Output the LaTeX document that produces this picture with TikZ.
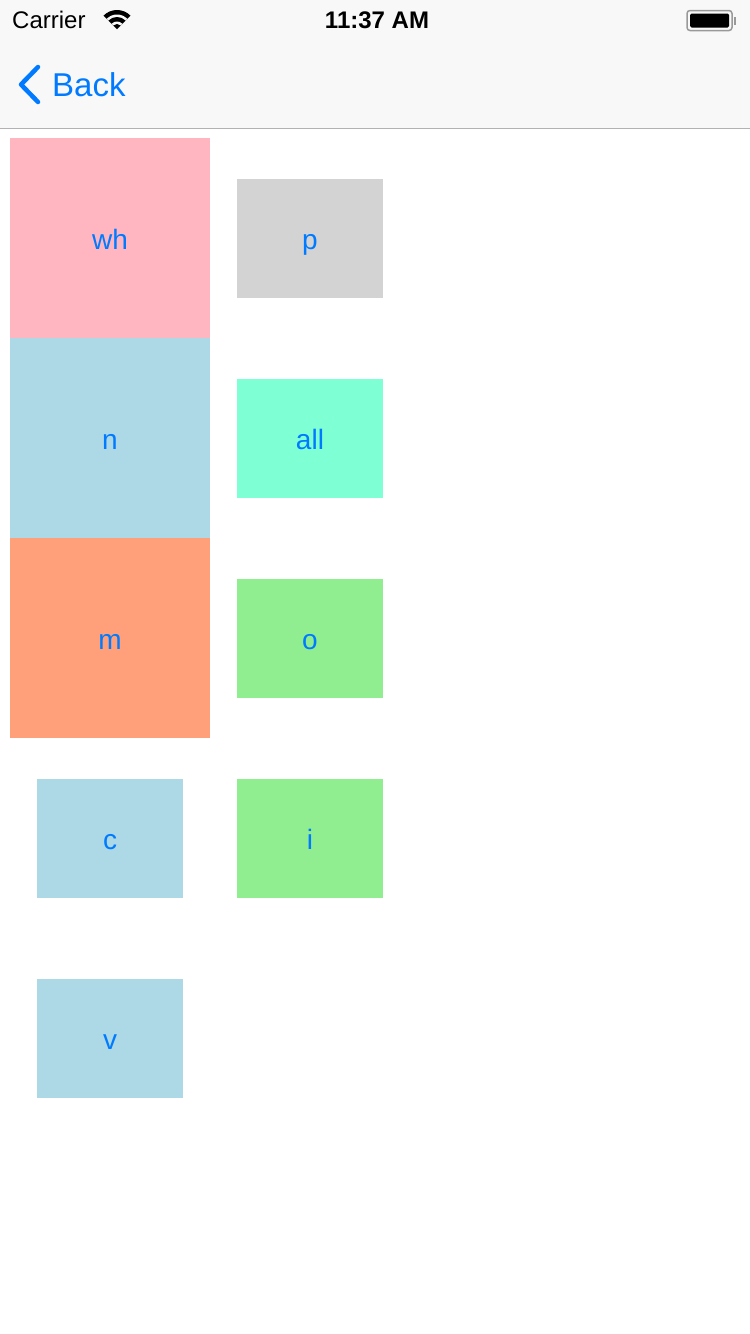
\documentclass[tikz,border=0pt]{standalone}
\usepackage{fontspec}
\setmainfont{Liberation Sans}
\definecolor{iosblue}{HTML}{007AFF}
\definecolor{navbg}{HTML}{F8F8F8}
\definecolor{sep}{HTML}{B2B2B2}
\definecolor{lpink}{HTML}{FFB6C1}
\definecolor{lblue}{HTML}{ADD8E6}
\definecolor{lsalmon}{HTML}{FFA07A}
\definecolor{lgray}{HTML}{D3D3D3}
\definecolor{aqua}{HTML}{7FFFD4}
\definecolor{lgreen}{HTML}{90EE90}
\begin{document}
\begin{tikzpicture}[x=1pt,y=-1pt,
  cell/.style={draw=none,inner sep=0pt,outer sep=0pt,font=\fontsize{28}{32}\selectfont,text=iosblue,text height=22pt,text depth=0pt},
]
\useasboundingbox (0,0) rectangle (750,1334);
\fill[white] (0,0) rectangle (750,1334);
\fill[navbg] (0,0) rectangle (750,128);
\draw[sep,line width=1.5pt] (0,128.5) -- (750,128.5);
% status bar
\node[anchor=west,inner sep=0pt,font=\fontsize{24}{28}\selectfont] (carrier) at (12,20) {Carrier};
\node[inner sep=0pt,font=\fontsize{24}{28}\selectfont\bfseries] (time) at (377,20) {11:37 AM};
% wifi
\begin{scope}[shift={(117,29)}]
\fill (0,0) -- (225:19) arc[start angle=225,end angle=315,radius=19] -- cycle;
\fill[navbg] (0,0) -- (225:14.5) arc[start angle=225,end angle=315,radius=14.5] -- cycle;
\fill (0,0) -- (225:12) arc[start angle=225,end angle=315,radius=12] -- cycle;
\fill[navbg] (0,0) -- (225:7.5) arc[start angle=225,end angle=315,radius=7.5] -- cycle;
\fill (0,0) -- (225:5) arc[start angle=225,end angle=315,radius=5] -- cycle;
\end{scope}
% battery
\draw[gray!80,line width=1.5pt,rounded corners=3pt] (687,10.5) rectangle (732,30.5);
\fill[black,rounded corners=1.5pt] (690,13.5) rectangle (729,27.5);
\fill[gray!80] (733.5,16.5) rectangle (735.5,24.5);
% back
\draw[iosblue,line width=4.5pt,line cap=round,line join=round] (38,67) -- (21,84.5) -- (38,102);
\node[anchor=west,inner sep=0pt,text=iosblue,font=\fontsize{33}{38}\selectfont] (back) at (52,85) {Back};
% cells
\node[cell,fill=lpink,minimum width=200pt,minimum height=200pt] (wh) at (110,238) {wh};
\node[cell,fill=lblue,minimum width=200pt,minimum height=200pt] (n) at (110,438) {n};
\node[cell,fill=lsalmon,minimum width=200pt,minimum height=200pt] (m) at (110,638) {m};
\node[cell,fill=lblue,minimum width=146pt,minimum height=119pt] (c) at (110,838.5) {c};
\node[cell,fill=lblue,minimum width=146pt,minimum height=119pt] (v) at (110,1038.5) {v};
\node[cell,fill=lgray,minimum width=146pt,minimum height=119pt] (p) at (310,238.5) {p};
\node[cell,fill=aqua,minimum width=146pt,minimum height=119pt] (all) at (310,438.5) {all};
\node[cell,fill=lgreen,minimum width=146pt,minimum height=119pt] (o) at (310,638.5) {o};
\node[cell,fill=lgreen,minimum width=146pt,minimum height=119pt] (i) at (310,838.5) {i};
\end{tikzpicture}
\end{document}
